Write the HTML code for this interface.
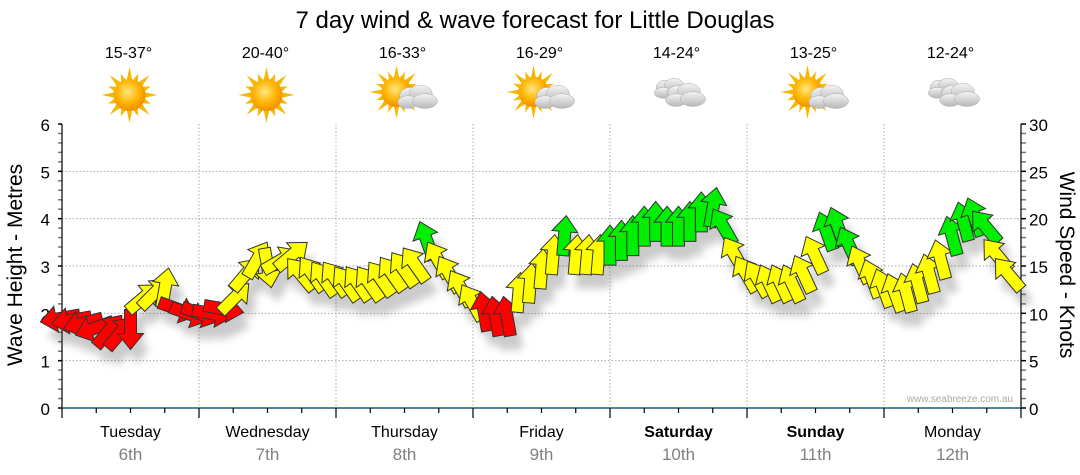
<!DOCTYPE html>
<html><head><meta charset="utf-8">
<style>
html,body{margin:0;padding:0;background:#fff;width:1080px;height:475px;overflow:hidden}
svg{display:block;font-family:"Liberation Sans","DejaVu Sans",sans-serif}
</style></head>
<body>
<svg id="chart" width="1080" height="475" viewBox="0 0 1080 475" xmlns="http://www.w3.org/2000/svg">
<defs>
<radialGradient id="sunG" cx="45%" cy="40%" r="60%"><stop offset="0" stop-color="#ffe680"/><stop offset="0.6" stop-color="#ffb400"/><stop offset="1" stop-color="#f08c00"/></radialGradient>
<linearGradient id="cloudG" x1="0" y1="0" x2="0" y2="1"><stop offset="0" stop-color="#f4f4f4"/><stop offset="1" stop-color="#b8b8b8"/></linearGradient>
<filter id="shadow" x="-50%" y="-50%" width="200%" height="200%"><feGaussianBlur stdDeviation="4"/></filter>
</defs>
<text x="535" y="28" font-size="24" text-anchor="middle" fill="#000">7 day wind &amp; wave forecast for Little Douglas</text>
<g id="forecast"></g>
<g id="grid"></g>
<g id="axes"></g>
<g id="shadows" filter="url(#shadow)" opacity="0.3"></g>
<g id="arrows"></g>
<text x="1013" y="402" font-size="10" text-anchor="end" fill="#aaa">www.seabreeze.com.au</text>
<text transform="translate(22,265) rotate(-90)" font-size="21" text-anchor="middle">Wave Height - Metres</text>
<text transform="translate(1060,265) rotate(90)" font-size="21" text-anchor="middle">Wind Speed - Knots</text>
</svg>
<script>
const days = ["Tuesday","Wednesday","Thursday","Friday","Saturday","Sunday","Monday"];
const dates = ["6th","7th","8th","9th","10th","11th","12th"];
const boldDays = [false,false,false,false,true,true,false];
const temps = ["15-37°","20-40°","16-33°","16-29°","14-24°","13-25°","12-24°"];
const icons = ["sun","sun","suncloud","suncloud","cloud","suncloud","cloud"];
const waveTicks = [0,1,2,3,4,5,6];
const windTicks = [0,5,10,15,20,25,30];
const hours = [0,2,4,6,8,10,12,14,16,18,20,22,24,26,28,30,32,34,36,38,40,42,44,46,48,50,52,54,56,58,60,62,64,66,68,70,72,74,76,78,80,82,84,86,88,90,92,94,96,98,100,102,104,106,108,110,112,114,116,118,120,122,124,126,128,130,132,134,136,138,140,142,144,146,148,150,152,154,156,158,160,162,164,166];
const windSpeed = [9.5,9.3,9.0,8.5,8.0,7.8,8.5,11.5,12,12.5,10.5,10,10,10,10.5,11.5,14,15.5,15,15.5,16,14,14,13.5,13.5,13,13,13,13.5,14,14.5,15,17.5,15.5,14,12.5,11,10,9.5,9.5,12,13,14.5,16,18,16,16,16,17,17.5,18,19,19.5,19,19,19.5,20.5,21,19,16,14,13.5,13,13,13,14,16,18.5,19,17,15,13.5,12.5,12,12,13,14,15.5,18,19.5,20,19,16,14];
const windDir = [260,260,255,250,40,40,180,50,45,10,110,110,110,100,100,45,40,30,170,60,50,320,325,325,325,325,325,325,325,325,325,325,340,330,330,330,330,350,350,350,5,5,5,5,5,5,5,5,0,0,0,0,0,0,0,0,0,10,330,330,330,330,335,335,335,335,335,340,340,335,335,340,340,340,345,345,345,345,345,345,340,320,320,320];

const NS="http://www.w3.org/2000/svg";
const X0=62, X1=1021, YB=408, YT=124;
const hx = h => X0 + h*(X1-X0)/(24*7);
const yW = m => YB - m*(YB-YT)/6;
const yK = k => YB - k*(YB-YT)/30;
function mk(tag, attrs, parent){const e=document.createElementNS(NS,tag);for(const k in attrs)e.setAttribute(k,attrs[k]);parent.appendChild(e);return e;}
const grid=document.getElementById('grid'), axes=document.getElementById('axes'), fc=document.getElementById('forecast');

waveTicks.forEach(m=>{
  if(m>0 && m<6){const l=mk('line',{x1:X0,x2:X1,y1:yW(m),y2:yW(m),stroke:'#aaa','stroke-dasharray':'1.5,2'},grid);
  
  }
  const t=mk('text',{x:50,y:yW(m)+7,'font-size':17,'text-anchor':'end'},axes);t.textContent=m;
  
  
});
windTicks.forEach(k=>{
  const t=mk('text',{x:1029,y:yK(k)+7,'font-size':17},axes);t.textContent=k;
  
  
});
for(let i=0;i<=30;i++){const y=yW(i*0.2);mk('line',{x1:X0-4,x2:X0,y1:y,y2:y,stroke:(i%5==0)?'#000':'#777','stroke-width':1.5},axes);}
for(let k=0;k<=30;k++){const y=yK(k);mk('line',{x1:X1,x2:X1+5,y1:y,y2:y,stroke:(k%5==0)?'#000':'#777','stroke-width':1.5},axes);}
mk('line',{x1:X0,x2:X0,y1:YT,y2:YB,stroke:'#000','stroke-width':1.2},axes);
mk('line',{x1:X1,x2:X1,y1:YT,y2:YB,stroke:'#000','stroke-width':1.2},axes);
mk('line',{x1:X0,x2:X1,y1:YB,y2:YB,stroke:'#1b5a80','stroke-width':1.5},axes);
for(let h=0;h<=168;h+=6){const x=hx(h);const major=h%24==0;
  mk('line',{x1:x,x2:x,y1:YB,y2:YB+(major?10:5),stroke:'#000','stroke-width':1.2},axes);
  if(major&&h>0&&h<168){const l=mk('line',{x1:x,x2:x,y1:YT,y2:YB,stroke:'#aaa','stroke-dasharray':'1.5,2'},grid);
    
    }
}
function sun(g,cx,cy,r){
  for(let i=0;i<16;i++){const a=i*Math.PI/8;const L=(i%2==0)?r+12:r+7;
    const p=[[cx+Math.cos(a)*L,cy+Math.sin(a)*L],[cx+Math.cos(a+0.22)*(r-2),cy+Math.sin(a+0.22)*(r-2)],[cx+Math.cos(a-0.22)*(r-2),cy+Math.sin(a-0.22)*(r-2)]];
    mk('polygon',{points:p.map(q=>q.join(',')).join(' '),fill:'#f5b800'},g);}
  mk('circle',{cx:cx,cy:cy,r:r,fill:'url(#sunG)'},g);
}
function cloud(g,cx,cy,s){
  [[-6,-4,10,8],[4,-6,11,8],[-8,2,10,6],[8,1,12,7]].forEach(c=>mk('ellipse',{cx:cx+c[0]*s,cy:cy+c[1]*s,rx:c[2]*s,ry:c[3]*s,fill:'url(#cloudG)',stroke:'#aaa','stroke-width':0.5},g));
}
days.forEach((d,i)=>{
  const cx=hx(i*24+12);
  const t=mk('text',{x:cx,y:437,'font-size':16,'text-anchor':'middle','font-weight':boldDays[i]?'bold':'normal'},axes);t.textContent=d;
  
  
  const dt=mk('text',{x:cx,y:460,'font-size':17,'text-anchor':'middle',fill:'#808080'},axes);dt.textContent=dates[i];
  
  
  const tt=mk('text',{x:cx-2,y:58,'font-size':16,'text-anchor':'middle'},fc);tt.textContent=temps[i];
  
  
  const g=mk('g',{},fc);
  
  
  if(icons[i]=='sun') sun(g,cx-1,95,16);
  else if(icons[i]=='suncloud'){sun(g,cx-8,92,15);cloud(g,cx+12,100,1.05);}
  else {cloud(g,cx-8,91,0.9);cloud(g,cx+6,98,1.05);}
});
const sh=document.getElementById('shadows'), ar=document.getElementById('arrows');
const shape="0,-22 13,-6 6,-6 6,18 -6,18 -6,-6 -13,-6";
hours.forEach((h,i)=>{
  const k=windSpeed[i], x=hx(h), y=yK(k);
  const col = k<11?'#ff0000':(k<17?'#ffff00':'#00ee00');
  mk('polygon',{points:shape,fill:'#555',transform:`translate(${x+7},${y+14}) rotate(${windDir[i]})`},sh);
  const p=mk('polygon',{points:shape,fill:col,stroke:'#333','stroke-width':1,'stroke-linejoin':'miter',transform:`translate(${x},${y}) rotate(${windDir[i]})`},ar);
  
  
});
</script>
</body></html>
